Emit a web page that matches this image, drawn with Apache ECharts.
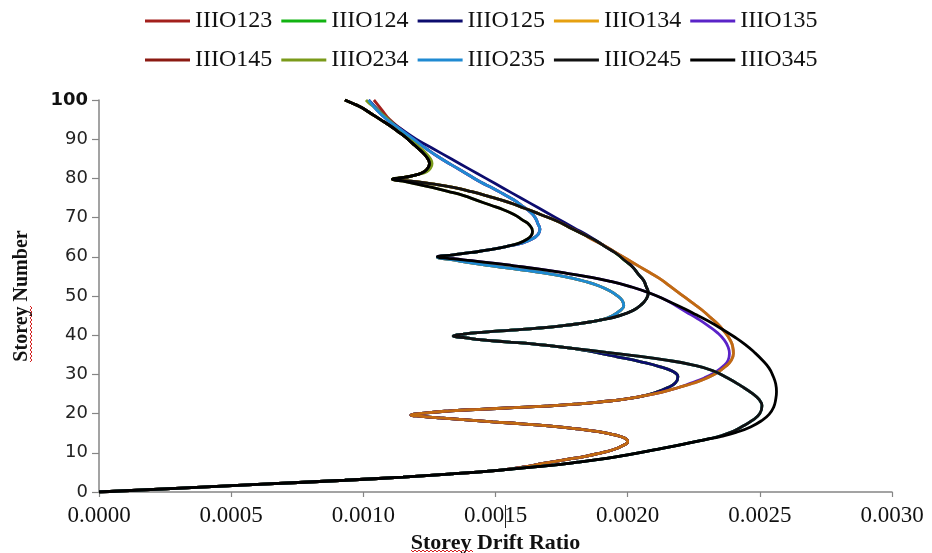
<!DOCTYPE html>
<html>
<head>
<meta charset="utf-8">
<title>Storey drift ratio – three outriggers</title>
<script src="https://cdn.jsdelivr.net/npm/echarts@6/dist/echarts.min.js"></script>
<style>
  html, body { margin: 0; padding: 0; background: #ffffff; }
  #chart { width: 932px; height: 553px; }
</style>
</head>
<body>
<div id="chart"></div>
<script>
// Storey drift ratio profiles for ten three-outrigger layouts.
// Every point is [drift ratio, storey]; profiles are assembled from the
// path pieces below, which several layouts share.

const seriesNames = ['IIIO123', 'IIIO124', 'IIIO125', 'IIIO134', 'IIIO135',
                     'IIIO145', 'IIIO234', 'IIIO235', 'IIIO245', 'IIIO345'];
const seriesColors = ['#a3201c', '#12b312', '#0c0c6e', '#e6a010', '#5a23c8',
                      '#8b1a12', '#7a9a1a', '#1f8ad2', '#111111', '#000000'];
const xTickLabels = ['0.0000', '0.0005', '0.0010', '0.0015', '0.0020', '0.0025', '0.0030'];

// common base, storeys 0-6
const baseAll = [[0, 0], [0.00031, 1.0], [0.00062, 2.0], [0.00093, 3.0], [0.00115, 3.8], [0.00133, 4.6],
                 [0.00152, 5.6]];

// outrigger at storey 20
const lowerWith20 = [[0.00161, 6.4], [0.00168, 7.3], [0.00176, 8.2], [0.00184, 9.1], [0.00190, 10.0],
                     [0.00195, 10.9], [0.00198, 11.8], [0.00200, 12.8], [0.00199, 13.7], [0.00195, 14.6],
                     [0.00189, 15.4], [0.00181, 16.1], [0.00171, 16.8], [0.00160, 17.4], [0.00149, 17.9],
                     [0.00139, 18.4], [0.00129, 18.9], [0.00122, 19.3], [0.00118, 19.6]];
const upperArm20 = [[0.00124, 20.2], [0.00133, 20.7], [0.00144, 21.1], [0.00157, 21.5], [0.00169, 21.9],
                    [0.00180, 22.4], [0.00190, 23.0], [0.00199, 23.7], [0.00206, 24.5]];

// no outrigger at storey 20
const lowerNo20 = [[0.00168, 6.6], [0.00181, 7.6], [0.00192, 8.6], [0.00201, 9.6], [0.00209, 10.6],
                   [0.00216, 11.5], [0.002225, 12.4], [0.00229, 13.3]];

// 20 -> 40
const bulge20to40 = [[0.00211, 25.5], [0.00215, 26.6], [0.00218, 27.8], [0.00219, 29.4], [0.00217, 30.8],
                     [0.00212, 32.0], [0.00205, 33.2], [0.00196, 34.5], [0.00188, 35.6]];
// 0 -> 40
const bulge0to40 = [[0.00234, 14.1], [0.00239, 15.2], [0.00243, 16.6], [0.00247, 18.2], [0.00250, 20.0],
                    [0.002508, 22.0], [0.002497, 23.6], [0.00247, 25.2], [0.00243, 27.0], [0.00238, 29.0],
                    [0.00232, 31.0], [0.00224, 32.5], [0.00214, 33.7], [0.00203, 34.7], [0.00192, 35.6]];
const lowerArm40 = [[0.00180, 36.6], [0.00172, 37.2], [0.00164, 37.8], [0.00154, 38.3], [0.00145, 38.8],
                    [0.00139, 39.3], [0.00134, 39.8]];
// 0 -> 60
const bulge0to60 = [[0.002355, 14.2], [0.00241, 15.2], [0.002465, 16.6], [0.002507, 18.2], [0.002535, 19.8],
                    [0.002552, 21.6], [0.00256, 23.6], [0.002563, 25.6], [0.00256, 27.6], [0.00255, 29.6],
                    [0.002535, 31.6], [0.00251, 33.6], [0.00248, 35.6], [0.002445, 37.6], [0.002403, 39.6],
                    [0.002356, 41.6], [0.002305, 43.6], [0.00226, 45.2], [0.002213, 46.8]];
// 20 -> 60
const bulge20to60 = [[0.00213, 25.5], [0.00219, 26.6], [0.00224, 27.8], [0.00229, 29.1], [0.00233, 30.5],
                     [0.00236, 32.0], [0.00238, 33.6], [0.002385, 35.3], [0.00238, 37.0], [0.002365, 38.8],
                     [0.00234, 40.6], [0.002305, 42.4], [0.002265, 44.2], [0.00222, 46.0], [0.00218, 47.6]];
// 20 -> 80
const bulge20to80 = [[0.00213, 25.5], [0.00219, 26.6], [0.00225, 27.8], [0.00230, 29.1], [0.00234, 30.5],
                     [0.00237, 32.0], [0.002392, 33.6], [0.00240, 35.3], [0.002397, 37.2], [0.002385, 39.1],
                     [0.002365, 41.0], [0.00234, 42.9], [0.00231, 44.7], [0.00228, 46.5], [0.00224, 48.5],
                     [0.00220, 50.5], [0.00216, 52.5], [0.00212, 54.5], [0.00207, 56.5], [0.00202, 58.5],
                     [0.00197, 60.5], [0.00192, 62.5], [0.00187, 64.3]];
const approach60 = [[0.00215, 48.8], [0.002085, 50.7], [0.00201, 52.4], [0.00193, 53.8], [0.00184, 55.0],
                    [0.00175, 56.0], [0.00166, 56.9], [0.00157, 57.7], [0.00149, 58.4], [0.00141, 59.0],
                    [0.00134, 59.5], [0.00128, 60.0]];

// outrigger at storey 40
const upperArm40 = [[0.00138, 40.3], [0.00146, 40.8], [0.00156, 41.3], [0.00166, 41.8], [0.00175, 42.4],
                    [0.00183, 43.1], [0.00190, 43.9]];
const bulge40to60 = [[0.00194, 44.9], [0.00197, 46.2], [0.001985, 47.5], [0.00198, 48.8], [0.00196, 50.1],
                     [0.00193, 51.4], [0.00189, 52.6], [0.00184, 53.7], [0.00178, 54.7], [0.00171, 55.6],
                     [0.00163, 56.4], [0.00155, 57.1], [0.00147, 57.8], [0.00140, 58.5], [0.00134, 59.2],
                     [0.00128, 59.9]];
const bulge40to57 = [[0.00197, 45.0], [0.00202, 46.3], [0.00205, 47.7], [0.00207, 49.2], [0.002078, 50.8],
                     [0.00207, 52.4], [0.00206, 54.0], [0.00204, 55.6], [0.00202, 57.3]];
const above57to64 = [[0.00199, 59.0], [0.00196, 60.7], [0.00192, 62.4], [0.00188, 64.1]];
const approach80 = [[0.00183, 65.8], [0.00178, 67.5], [0.00173, 69.2], [0.00167, 70.8], [0.00161, 72.4],
                    [0.00155, 73.9], [0.00148, 75.3], [0.00141, 76.6], [0.00134, 77.7], [0.00126, 78.6],
                    [0.00118, 79.3], [0.00111, 79.8]];
const navyTop = [[0.00199, 59.5], [0.00193, 62.0], [0.00186, 65.0], [0.001794, 67.5], [0.001728, 70.0],
                 [0.001662, 72.5], [0.001596, 75.0], [0.00153, 77.5], [0.001464, 80.0], [0.001398, 82.5],
                 [0.001332, 85.0], [0.001266, 87.5], [0.00120, 90.0], [0.001145, 92.5], [0.001095, 95.0],
                 [0.001055, 97.5], [0.00102, 100]];

// outrigger at storey 60
const upperArm60 = [[0.00134, 60.5], [0.00141, 61.1], [0.00148, 61.8], [0.00154, 62.6]];
const bulge60to80 = [[0.00159, 63.5], [0.00162, 64.5], [0.001636, 65.5], [0.00164, 66.5], [0.00163, 68.0],
                     [0.00160, 69.5], [0.00157, 70.8], [0.00153, 72.0], [0.00148, 73.2], [0.00143, 74.4],
                     [0.00138, 75.6], [0.00132, 76.7], [0.00126, 77.7], [0.00120, 78.6], [0.00115, 79.3],
                     [0.00111, 79.8]];
const topFrom60 = [[0.00160, 63.5], [0.00164, 64.6], [0.001662, 65.8], [0.001668, 67.0], [0.00166, 68.5],
                   [0.00165, 70.0], [0.00163, 71.5], [0.00160, 73.0], [0.00157, 74.5], [0.00153, 76.0],
                   [0.00149, 77.5], [0.001445, 79.0], [0.001395, 81.0], [0.001345, 83.0], [0.001295, 85.0],
                   [0.00124, 87.5], [0.00119, 90.0]];
const cyanTail = [[0.00114, 92.5], [0.00109, 95.0], [0.00105, 97.5], [0.00102, 100]];
const redTail = [[0.001145, 92.5], [0.00110, 95.0], [0.00107, 97.5], [0.00104, 100]];

// outrigger at storey 80
const top80 = [[0.00116, 80.3], [0.00120, 80.9], [0.00123, 81.7], [0.001245, 82.7], [0.00125, 83.8],
               [0.001245, 84.9], [0.00123, 86.2], [0.00121, 87.5], [0.001185, 89.0], [0.00116, 90.5],
               [0.00113, 92.0], [0.00110, 93.5], [0.001065, 95.0], [0.00103, 96.5], [0.000995, 98.0],
               [0.000965, 99.0], [0.00093, 100]];
const top80Olive = [[0.00116, 80.3], [0.00120, 80.9], [0.00124, 81.7], [0.001255, 82.7], [0.00126, 83.8],
                    [0.001255, 84.9], [0.00124, 86.2], [0.00122, 87.5], [0.001195, 89.0], [0.00117, 90.5],
                    [0.001145, 92.0], [0.00112, 93.5], [0.001095, 95.0], [0.00107, 96.5], [0.001045, 98.0],
                    [0.001025, 99.0], [0.00101, 100]];

const join = (...parts) => [].concat(...parts);

const profiles = {
  IIIO123: join(baseAll, lowerWith20, upperArm20, bulge20to40, lowerArm40, upperArm40, bulge40to60,
                upperArm60, topFrom60, redTail),
  IIIO124: join(baseAll, lowerWith20, upperArm20, bulge20to40, lowerArm40, upperArm40, bulge40to57,
                above57to64, approach80, top80),
  IIIO125: join(baseAll, lowerWith20, upperArm20, bulge20to40, lowerArm40, upperArm40, bulge40to57, navyTop),
  IIIO134: join(baseAll, lowerWith20, upperArm20, bulge20to80, approach80, top80),
  IIIO135: join(baseAll, lowerWith20, upperArm20, bulge20to60, approach60, upperArm60, topFrom60, cyanTail),
  IIIO145: join(baseAll, lowerWith20, upperArm20, bulge20to80, approach80, top80),
  IIIO234: join(baseAll, lowerNo20, bulge0to40, lowerArm40, upperArm40, bulge40to60, upperArm60,
                bulge60to80, top80Olive),
  IIIO235: join(baseAll, lowerNo20, bulge0to40, lowerArm40, upperArm40, bulge40to60, upperArm60,
                topFrom60, cyanTail),
  IIIO245: join(baseAll, lowerNo20, bulge0to40, lowerArm40, upperArm40, bulge40to57, above57to64,
                approach80, top80),
  IIIO345: join(baseAll, lowerNo20, bulge0to60, approach60, upperArm60, bulge60to80, top80)
};

// paint order: IIIO134 goes over IIIO145 so the shared path reads brown
const drawOrder = ['IIIO123', 'IIIO124', 'IIIO125', 'IIIO135', 'IIIO145', 'IIIO134',
                   'IIIO234', 'IIIO235', 'IIIO245', 'IIIO345'];

const serif = '"Liberation Serif", "Times New Roman", serif';
const sans = '"DejaVu Sans", Verdana, sans-serif';
const axisGrey = '#858585';

const series = drawOrder.map(name => {
  const color = seriesColors[seriesNames.indexOf(name)];
  return {
    name: name,
    type: 'line',
    data: profiles[name],
    symbol: 'none',
    smooth: 0.5,
    lineStyle: { color: color, width: 2.8, opacity: name === 'IIIO134' ? 0.6 : 1 },
    itemStyle: { color: color }
  };
});

const legendCommon = {
  left: 145,
  padding: 0,
  icon: 'rect',
  itemWidth: 45,
  itemHeight: 3,
  itemGap: 9,
  selectedMode: false,
  textStyle: { fontFamily: serif, fontSize: 24, color: '#111' }
};

// wavy proofing underline drawn beneath the word "Storey" in each axis title
function wavy(x0, y0, length, vertical) {
  const pts = [];
  for (let i = 0; i <= length; i += 2) {
    const off = (i / 2) % 2 === 0 ? 0 : 2;
    pts.push(vertical ? [x0 + off, y0 - i] : [x0 + i, y0 + off]);
  }
  return pts;
}

const chart = echarts.init(document.getElementById('chart'), null, { renderer: 'canvas' });
chart.setOption({
  animation: false,
  backgroundColor: '#ffffff',
  grid: { left: 99, right: 40, top: 100, bottom: 61, containLabel: false, outerBoundsMode: 'none' },
  legend: [
    Object.assign({ top: 9, data: seriesNames.slice(0, 5) }, legendCommon),
    Object.assign({ top: 48, data: seriesNames.slice(5) }, legendCommon)
  ],
  xAxis: {
    type: 'value',
    min: 0,
    max: 0.003,
    interval: 0.0005,
    name: 'Storey Drift Ratio',
    nameLocation: 'middle',
    nameGap: 38,
    nameTextStyle: { fontFamily: serif, fontWeight: 'bold', fontSize: 22, color: '#111' },
    axisLine: { show: true, onZero: false, lineStyle: { color: axisGrey, width: 1.5 } },
    axisTick: { show: true, length: 5, lineStyle: { color: axisGrey, width: 1.2 } },
    splitLine: { show: false },
    axisLabel: {
      margin: 12,
      fontFamily: serif,
      fontSize: 23,
      color: '#111',
      formatter: v => xTickLabels[Math.round(v / 0.0005)]
    }
  },
  yAxis: {
    type: 'value',
    min: 0,
    max: 100,
    interval: 10,
    name: 'Storey Number',
    nameLocation: 'middle',
    nameGap: 67,
    nameTextStyle: { fontFamily: serif, fontWeight: 'bold', fontSize: 20, color: '#111' },
    axisLine: { show: true, onZero: false, lineStyle: { color: axisGrey, width: 1.5 } },
    axisTick: { show: true, length: 7, lineStyle: { color: axisGrey, width: 1.2 } },
    splitLine: { show: false },
    axisLabel: {
      margin: 11,
      fontFamily: sans,
      fontSize: 18,
      color: '#222',
      formatter: v => (v === 100 ? '{top|100}' : String(v)),
      rich: {
        top: { fontFamily: sans, fontSize: 18, fontWeight: 'bold', color: '#111' }
      }
    }
  },
  graphic: [
    { type: 'polyline', silent: true, shape: { points: wavy(411, 550, 62, false) },
      style: { stroke: '#d42020', lineWidth: 1, fill: null } },
    { type: 'polyline', silent: true, shape: { points: wavy(30, 362, 56, true) },
      style: { stroke: '#d42020', lineWidth: 1, fill: null } },
    { type: 'line', silent: true, shape: { x1: 505.5, y1: 505, x2: 505.5, y2: 528 },
      style: { stroke: '#222', lineWidth: 1 } }
  ],
  series: series
});
</script>
</body>
</html>
